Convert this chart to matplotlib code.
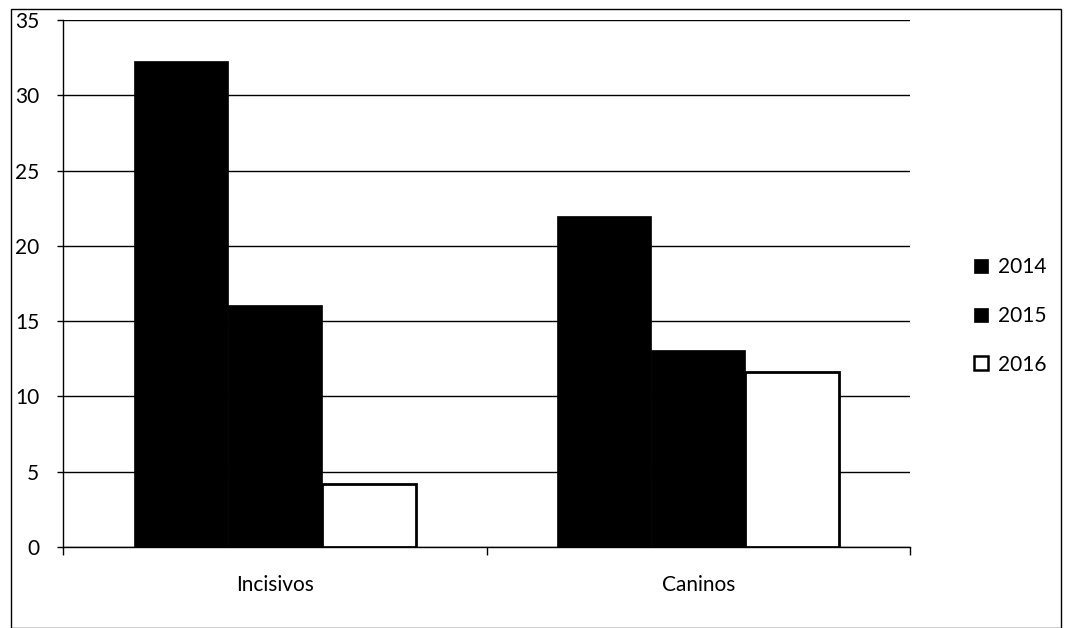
import matplotlib
matplotlib.use("Agg")
import matplotlib.pyplot as plt
from matplotlib.lines import Line2D
from matplotlib.patches import Rectangle
import numpy as np

plt.rcParams['font.family'] = ['Lato', 'DejaVu Sans']

categories = ["Incisivos", "Caninos"]
series_names = ["2014", "2015", "2016"]
values_2014 = [32.3, 22.0]
values_2015 = [16.1, 13.1]
values_2016 = [4.2, 11.6]
yticks = [0, 5, 10, 15, 20, 25, 30, 35]

fig = plt.figure(figsize=(10.66, 6.28), dpi=100)
ax = fig.add_axes([0.0591, 0.129, 0.7946, 0.839])

x = np.arange(len(categories))
w = 0.222
face = ["black", "black", "white"]
for i, vals in enumerate([values_2014, values_2015, values_2016]):
    ax.bar(x + (i - 1) * w, vals, width=w, color=face[i], edgecolor="black",
           linewidth=2.0 if i == 2 else 0.5, zorder=3)

ax.set_xlim(-0.5, 1.5)
ax.set_ylim(0, 35)
ax.set_yticks(yticks)
ax.yaxis.grid(True, color="black", linewidth=1.0, zorder=0)
ax.set_axisbelow(True)
for s in ["top", "right"]:
    ax.spines[s].set_visible(False)
ax.spines["left"].set_linewidth(1.0)
ax.spines["bottom"].set_linewidth(1.0)
ax.set_xticks(x)
ax.set_xticklabels(categories, fontsize=15)
ax.set_xticks([-0.5, 0.5, 1.5], minor=True)
ax.tick_params(axis="x", which="major", length=0, pad=20)
ax.tick_params(axis="x", which="minor", length=6, direction="out", width=1)
ax.tick_params(axis="y", length=4, direction="out", width=1, labelsize=15, pad=13)

handles = [Line2D([], [], marker="s", linestyle="none", markersize=10,
                  markerfacecolor=face[i], markeredgecolor="black", markeredgewidth=1.8 if i == 2 else 0.5)
           for i in range(3)]
fig.legend(handles, series_names, loc="center left", bbox_to_anchor=(0.895, 0.497),
           frameon=False, fontsize=15, handlelength=0.8, handletextpad=0.4,
           labelspacing=1.38)

fig.patches.append(Rectangle((0.01, 0.0), 0.985, 0.985, transform=fig.transFigure,
                             fill=False, edgecolor="black", linewidth=1.0))

fig.savefig("out.png", dpi=100)
